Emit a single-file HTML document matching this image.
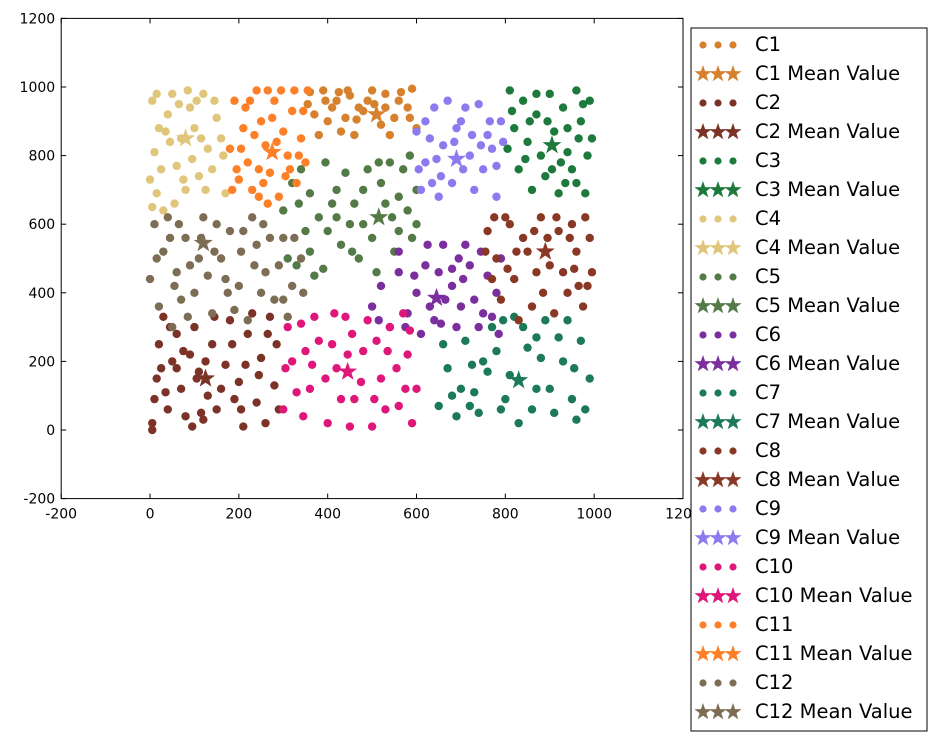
<!DOCTYPE html>
<html><head><meta charset="utf-8"><style>
body{margin:0;background:#fff;font-family:"DejaVu Sans",sans-serif}
svg text{font-family:"DejaVu Sans","Liberation Sans",sans-serif}
</style></head><body>
<svg id="chart" width="937" height="741"></svg>
<script>
const clusterNames=["C1","C2","C3","C4","C5","C6","C7","C8","C9","C10","C11","C12"];
const clusterColors=["#d6812e","#7b3328","#1e7a3c","#e0c67a","#547a48","#7b2e9e","#1c7a58","#8a3826","#8d7aef","#e0177a","#fd7f27","#7d6d55"];
const meanX=[510,125,905,80,515,645,830,890,690,445,275,120];
const meanY=[920,150,830,850,620,385,145,520,790,170,810,545];
const c1=[[360,985],[390,990],[420,960],[450,975],[470,940],[500,990],[530,980],[560,960],[590,995],[400,900],[430,870],[460,860],[480,930],[520,890],[550,910],[580,940],[370,920],[440,910],[540,860],[600,880],[410,940],[490,960],[565,985],[380,860],[355,950],[445,990],[505,950],[585,910],[465,905],[425,985],[530,940],[395,960]];
const c2=[[5,20],[10,90],[15,150],[20,250],[30,330],[40,60],[50,200],[60,280],[70,120],[80,40],[90,220],[100,300],[110,170],[120,30],[130,100],[140,250],[150,60],[170,190],[180,320],[200,140],[210,10],[220,280],[240,80],[250,210],[260,20],[270,330],[280,130],[290,60],[60,180],[190,90],[5,0],[230,340],[25,180],[45,300],[75,230],[95,10],[105,150],[145,330],[160,120],[185,250],[205,60],[245,160],[265,280],[35,110],[125,200],[215,190],[285,250],[115,50]];
const c3=[[810,990],[840,960],[870,920],[900,980],[930,940],[960,990],[990,960],[820,880],[850,840],[880,800],[910,870],[940,810],[970,900],[995,850],[830,760],[860,700],[890,740],[920,690],[950,760],[980,690],[805,820],[960,720],[870,980],[940,880],[815,930],[895,900],[975,950],[925,780],[855,900],[985,800],[935,720],[845,790],[965,850],[905,760]];
const c4=[[0,730],[5,960],[10,810],[15,690],[20,880],[30,640],[40,920],[50,980],[60,770],[70,850],[80,700],[90,940],[100,880],[110,740],[120,980],[130,820],[140,760],[150,910],[160,850],[170,690],[25,760],[45,840],[95,790],[55,660],[15,980],[35,870],[65,950],[85,990],[105,960],[125,700],[145,960],[75,730],[5,650],[115,850],[165,800]];
const c5=[[300,640],[320,720],[340,760],[360,690],[380,620],[400,580],[420,700],[440,750],[460,660],[480,600],[500,560],[520,720],[540,780],[560,680],[580,640],[600,600],[330,480],[360,520],[390,470],[430,540],[470,500],[510,460],[550,520],[590,560],[420,620],[480,700],[570,760],[350,580],[310,500],[370,450],[410,660],[450,600],[490,760],[530,660],[560,580],[600,700],[395,780],[455,520],[515,780],[585,800],[335,660],[545,620]];
const c6=[[500,360],[520,420],[540,300],[560,460],[580,340],[600,400],[620,480],[640,320],[660,540],[680,420],[700,360],[720,480],[740,300],[760,450],[780,400],[790,500],[610,280],[650,460],[690,300],[710,540],[730,380],[560,520],[630,360],[750,340],[680,470],[515,320],[595,450],[665,380],[705,440],[770,330],[745,520],[625,540],[655,310],[575,300],[695,500],[785,280]];
const c7=[[650,70],[670,180],[690,40],[710,260],[730,110],[750,200],[770,300],[790,60],[810,160],[830,20],[850,240],[870,120],[890,320],[910,50],[930,200],[950,90],[970,260],[990,150],[700,120],[740,50],[780,230],[820,330],[880,210],[940,320],[960,30],[660,250],[860,60],[680,100],[720,70],[760,170],[800,90],[840,300],[900,120],[920,270],[980,60],[955,180],[870,270],[795,320],[725,190]];
const c8=[[760,580],[780,500],[800,620],[820,440],[840,560],[860,360],[880,620],[900,480],[920,580],[940,400],[960,520],[980,620],[995,460],[790,380],[830,320],[870,460],[910,340],[950,600],[975,360],[990,560],[770,440],[850,520],[930,460],[810,600],[965,420],[755,520],[825,520],[885,400],[915,620],[985,420],[945,560],[805,470],[865,580],[955,470],[775,620],[895,560]];
const c9=[[600,870],[620,780],[640,940],[660,830],[680,720],[700,900],[720,800],[740,950],[760,860],[780,770],[790,900],[610,700],[650,680],[690,880],[730,700],[770,820],[630,850],[710,940],[750,760],[670,960],[620,900],[780,680],[605,760],[645,790],[685,840],[725,860],[765,900],[795,840],[655,740],[705,760],[745,830],[635,720]];
const c10=[[300,60],[320,200],[340,310],[360,120],[380,260],[400,20],[420,180],[440,330],[460,90],[480,230],[500,10],[520,150],[540,300],[560,70],[580,220],[600,120],[330,110],[370,330],[410,250],[450,10],[490,320],[530,60],[570,340],[350,230],[430,90],[510,260],[590,20],[310,300],[395,150],[455,280],[475,140],[555,180],[585,290],[345,40],[415,340],[505,90],[365,190],[535,230],[305,180],[445,220],[575,120]];
const c11=[[190,960],[210,880],[220,780],[230,700],[240,990],[250,900],[260,830],[270,750],[280,960],[290,680],[300,870],[310,800],[320,930],[330,720],[340,850],[350,780],[180,820],[200,730],[215,940],[245,760],[295,990],[325,990],[265,660],[185,700],[305,740],[355,990],[205,820],[235,860],[255,720],[275,910],[285,840],[315,760],[345,930],[225,960],[195,760],[265,990],[335,800],[245,680]];
const c12=[[0,440],[10,600],[20,360],[30,520],[40,620],[50,300],[60,460],[80,560],[100,400],[120,620],[140,340],[160,500],[180,580],[200,420],[220,320],[240,540],[260,460],[280,380],[300,560],[320,420],[340,500],[70,380],[110,500],[150,600],[190,350],[230,620],[270,560],[310,330],[130,450],[250,400],[15,500],[45,560],[65,600],[90,480],[115,560],[145,520],[170,440],[210,580],[235,480],[255,600],[290,480],[325,560],[345,400],[85,330],[175,400],[205,520],[300,380],[55,420]];
const clusterPoints=[c1,c2,c3,c4,c5,c6,c7,c8,c9,c10,c11,c12];
const xTicks=[-200,0,200,400,600,800,1000,1200];
const yTicks=[-200,0,200,400,600,800,1000,1200];

const NS="http://www.w3.org/2000/svg";
const svg=document.getElementById('chart');
const L=61.2,R=683,T=18.4,B=498.6;
function sx(v){return L+(v+200)/1400*(R-L);}
function sy(v){return B-(v+200)/1400*(B-T);}
function el(tag,attrs,parent){const e=document.createElementNS(NS,tag);for(const k in attrs)e.setAttribute(k,attrs[k]);(parent||svg).appendChild(e);return e;}
function starPts(cx,cy,r){let p=[];for(let i=0;i<10;i++){const a=-Math.PI/2+i*Math.PI/5;const rr=i%2?r*0.4:r;p.push((cx+rr*Math.cos(a)).toFixed(1)+','+(cy+rr*Math.sin(a)).toFixed(1));}return p.join(' ');}

const frame=el('rect',{x:L,y:T,width:R-L,height:B-T,fill:'none',stroke:'#000','stroke-width':1});


xTicks.forEach(t=>{
  const x=sx(t);
  el('line',{x1:x,y1:B,x2:x,y2:B-5,stroke:'#000'});
  el('line',{x1:x,y1:T,x2:x,y2:T+5,stroke:'#000'});
  const tx=el('text',{x:x,y:B+20,'text-anchor':'middle','font-size':14});
  tx.textContent=t;
  
  
});
yTicks.forEach(t=>{
  const y=sy(t);
  el('line',{x1:L,y1:y,x2:L+5,y2:y,stroke:'#000'});
  el('line',{x1:R,y1:y,x2:R-5,y2:y,stroke:'#000'});
  const tx=el('text',{x:L-6,y:y+5,'text-anchor':'end','font-size':14});
  tx.textContent=t;
  
  
});
clusterPoints.forEach((pts,i)=>{
  const g=el('g',{});
  
  
  pts.forEach(p=>{
    const c=el('circle',{cx:sx(p[0]),cy:sy(p[1]),r:4.2,fill:clusterColors[i]},g);
    
    
  });
});
clusterNames.forEach((n,i)=>{
  const s=el('polygon',{points:starPts(sx(meanX[i]),sy(meanY[i]),10),fill:clusterColors[i]});
  
  
});
const lg=el('g',{});


el('rect',{x:691,y:28,width:236,height:703,fill:'#fff',stroke:'#000'},lg);
clusterNames.forEach((n,i)=>{
  const y1=45+i*58,y2=y1+29;
  [703,718,733].forEach(x=>el('circle',{cx:x,cy:y1,r:3.6,fill:clusterColors[i]},lg));
  [703,718,733].forEach(x=>el('polygon',{points:starPts(x,y2,9),fill:clusterColors[i]},lg));
  const t1=el('text',{x:755,y:y1+6,'font-size':19.5},lg);t1.textContent=n;
  
  
  const t2=el('text',{x:755,y:y2+6,'font-size':19.5},lg);t2.textContent=n+' Mean Value';
  
  
});
</script>
</body></html>
